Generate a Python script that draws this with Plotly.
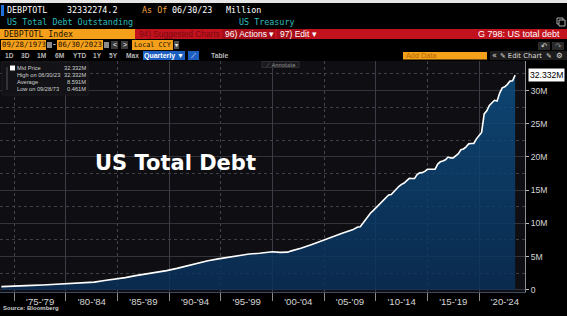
import plotly.graph_objects as go

# ---------------- data (US total public debt, millions of millions) ----------------
dates = [
    "1973-09-28", "1974-09-30", "1975-09-30", "1976-09-30", "1977-09-30", "1978-09-30",
    "1979-09-30", "1980-09-30", "1981-09-30", "1982-09-30", "1983-09-30", "1984-09-30",
    "1985-09-30", "1986-09-30", "1987-09-30", "1988-09-30", "1989-09-30", "1990-09-30",
    "1991-09-30", "1992-09-30", "1993-09-30", "1994-09-30", "1995-09-30", "1996-09-30",
    "1997-09-30", "1998-09-30", "1999-09-30", "1999-12-31", "2000-09-30", "2001-06-30",
    "2001-09-30", "2002-09-30", "2003-09-30", "2004-09-30", "2005-09-30", "2006-09-30",
    "2007-09-30", "2007-12-31",
    "2008-03-31", "2008-06-30", "2008-09-30", "2008-12-31",
    "2009-03-31", "2009-06-30", "2009-09-30", "2009-12-31",
    "2010-03-31", "2010-06-30", "2010-09-30", "2010-12-31",
    "2011-03-31", "2011-06-30", "2011-09-30", "2011-12-31",
    "2012-03-31", "2012-06-30", "2012-09-30", "2012-12-31",
    "2013-03-31", "2013-06-30", "2013-09-30", "2013-12-31",
    "2014-03-31", "2014-06-30", "2014-09-30", "2014-12-31",
    "2015-03-31", "2015-06-30", "2015-09-30", "2015-12-31",
    "2016-03-31", "2016-06-30", "2016-09-30", "2016-12-31",
    "2017-03-31", "2017-06-30", "2017-09-30", "2017-12-31",
    "2018-03-31", "2018-06-30", "2018-09-30", "2018-12-31",
    "2019-03-31", "2019-06-30", "2019-09-30", "2019-12-31",
    "2020-03-31", "2020-06-30", "2020-09-30", "2020-12-31",
    "2021-03-31", "2021-06-30", "2021-09-30", "2021-12-31",
    "2022-03-31", "2022-06-30", "2022-09-30", "2022-12-31",
    "2023-03-31", "2023-06-30",
]
debt = [
    0.461, 0.484, 0.542, 0.643, 0.706, 0.777,
    0.829, 0.909, 0.995, 1.137, 1.372, 1.565,
    1.817, 2.121, 2.346, 2.601, 2.868, 3.207,
    3.598, 4.002, 4.351, 4.643, 4.921, 5.181,
    5.369, 5.478, 5.606, 5.720, 5.620, 5.650,
    5.807, 6.228, 6.783, 7.379, 7.933, 8.507,
    9.008, 9.230,
    9.440, 9.490, 10.020, 10.700,
    11.130, 11.550, 11.910, 12.310,
    12.770, 13.200, 13.560, 14.030,
    14.270, 14.340, 14.790, 15.220,
    15.580, 15.860, 16.070, 16.430,
    16.770, 16.740, 16.740, 17.350,
    17.600, 17.630, 17.820, 18.140,
    18.150, 18.150, 18.150, 18.920,
    19.260, 19.380, 19.570, 19.980,
    19.850, 19.840, 20.240, 20.490,
    21.090, 21.200, 21.520, 21.970,
    22.030, 22.020, 22.720, 23.200,
    23.690, 26.480, 26.950, 27.750,
    28.130, 28.530, 28.430, 29.620,
    30.400, 30.570, 30.930, 31.420,
    31.460, 32.332,
]

period_mid = ["1977-07-02", "1982-07-02", "1987-07-02", "1992-07-02", "1997-07-02",
              "2002-07-02", "2007-07-02", "2012-07-02", "2017-07-02", "2022-07-02"]
period_labels = ["'75-'79", "'80-'84", "'85-'89", "'90-'94", "'95-'99",
                 "'00-'04", "'05-'09", "'10-'14", "'15-'19", "'20-'24"]
period_bounds = ["1975-01-01", "1980-01-01", "1985-01-01", "1990-01-01", "1995-01-01",
                 "2000-01-01", "2005-01-01", "2010-01-01", "2015-01-01", "2020-01-01"]
decade_bounds = ["1980-01-01", "1990-01-01", "2000-01-01", "2010-01-01", "2020-01-01"]
y_ticks = [0, 5, 10, 15, 20, 25, 30]
y_labels = ["0", "5M", "10M", "15M", "20M", "25M", "30M"]
y_minor = [2.5, 7.5, 12.5, 17.5, 22.5, 27.5, 32.5]

# ---------------- geometry helpers (pixel -> paper) ----------------
W, H = 567, 316
ML, MR, MT, MB = 0, 42, 61, 24
PW, PH = W - ML - MR, H - MT - MB


def X(px):
    return (px - ML) / PW


def Y(py):
    return (H - MB - py) / PH


SANS = "Liberation Sans"
MONO = "DejaVu Sans Mono"
shapes = []
anns = []


def rect(x0, y0, x1, y1, color, line=None, layer="above"):
    shapes.append(dict(type="rect", xref="paper", yref="paper",
                       x0=X(x0), x1=X(x1), y0=Y(y1), y1=Y(y0),
                       fillcolor=color, layer=layer,
                       line=dict(width=1 if line else 0, color=line or color)))


def txt(x, y, s, size=8, color="#ffffff", family=SANS, xanchor="left"):
    anns.append(dict(x=X(x), y=Y(y), xref="paper", yref="paper", text=s,
                     showarrow=False, xanchor=xanchor, yanchor="middle",
                     borderpad=0, font=dict(size=size, color=color, family=family)))


ORANGE = "#f5a01a"
RED = "#c2121d"
CYAN = "#2fbdbd"

# top strip
rect(0, 0, 567, 3, "#e6e6e6")
# row 1
rect(1, 5, 4, 16, "#1e6fd9")
txt(6, 10.5, "DEBPTOTL", 8.4, "#ffffff", MONO)
txt(66, 10.5, "32332274.2", 8.4, "#ffffff", MONO)
txt(141, 10.5, "As Of", 8.4, "#f0a640", MONO)
txt(171, 10.5, "06/30/23", 8.4, "#ffffff", MONO)
txt(225, 10.5, "Million", 8.4, "#ffffff", MONO)
rect(557, 18, 563, 24, "#000000", "#aaaaaa")
rect(559, 20, 565, 26, "#000000", "#aaaaaa")
# row 2
txt(6, 22, "US Total Debt Outstanding", 8.4, CYAN, MONO)
txt(238, 22, "US Treasury", 8.4, CYAN, MONO)
# row 3
rect(0, 29, 135, 39, ORANGE)
txt(3, 34, "DEBPTOTL Index", 8.2, "#1a1000", MONO)
rect(135, 29, 567, 39, RED)
rect(222, 29, 275, 39, "#a80e19")
rect(277, 29, 305, 39, "#a80e19")
txt(138, 34, "94) Suggested Charts", 8.3, "#7a0910")
txt(224, 34, "96) Actions ▾", 8.5, "#ffffff")
txt(279, 34, "97) Edit ▾", 8.5, "#ffffff")
txt(561, 34, "G 798: US total debt", 9, "#ffffff", xanchor="right")
# row 4
rect(1, 40, 46, 50, ORANGE)
txt(23.5, 45, "09/28/1973", 7.3, "#1a1000", MONO, "center")
rect(47, 42, 52, 48, "#8a8a8a")
txt(54.5, 45, "-", 8, "#ffffff", MONO, "center")
rect(57, 40, 103, 50, ORANGE)
txt(80, 45, "06/30/2023", 7.3, "#1a1000", MONO, "center")
rect(104, 42, 109, 48, "#8a8a8a")
rect(111, 41, 118, 49, "#3a3a3a")
rect(121, 41, 128, 49, "#3a3a3a")
txt(114.5, 45, "<", 7, "#ffffff", SANS, "center")
txt(124.5, 45, ">", 7, "#ffffff", SANS, "center")
rect(132, 40, 173, 50, ORANGE)
txt(152.5, 45, "Local CCY", 6.8, "#1a1000", MONO, "center")
rect(174, 41, 179, 49, "#505050")
txt(176.5, 45, "▾", 6, "#ffffff", SANS, "center")
rect(538, 42, 550, 50, "#2a2a2a")
rect(552, 42, 564, 50, "#2a2a2a")
txt(544, 46, "↶", 8, "#dddddd", "DejaVu Sans", "center")
txt(558, 46, "↷", 8, "#888888", "DejaVu Sans", "center")
# row 5
for lab, cx in zip(["1D", "3D", "1M", "6M", "YTD", "1Y", "5Y", "Max"],
                   [9, 25, 42, 60, 79, 97, 113, 132]):
    txt(cx, 55.5, "<b>" + lab + "</b>", 6.6, "#b8b8b8", SANS, "center")
rect(143, 51, 185, 60, "#1c5fc0")
txt(164, 55.5, "<b>Quarterly ▼</b>", 7, "#ffffff", SANS, "center")
rect(188, 51, 199, 60, "#1c5fc0")
txt(193.5, 55.5, "⟋", 7, "#ffffff", "DejaVu Sans", "center")
txt(219, 55.5, "<b>Table</b>", 6.8, "#b8b8b8", SANS, "center")
rect(403, 52, 487, 59.5, ORANGE)
txt(405, 55.7, "Add Data", 7.3, "#b06a00")
rect(490, 51, 567, 60, "#1c1c1c")
txt(494, 55.5, "«", 8, "#dddddd", "DejaVu Sans", "center")
txt(499, 55.5, "✎ Edit Chart", 6.8, "#dddddd", "DejaVu Sans")
txt(549, 55.5, "✎", 6.8, "#dddddd", "DejaVu Sans", "center")
txt(559, 55.5, "⚙", 7.5, "#dddddd", "DejaVu Sans", "center")

# legend box inside chart
rect(2, 62, 88, 95, "#131317", "#1c1c21")
rect(10, 65.5, 15, 70.5, "#ffffff")
shapes.append(dict(type="line", xref="paper", yref="paper", x0=X(7), x1=X(7),
                   y0=Y(67), y1=Y(90), line=dict(color="#555555", width=1), layer="above"))
leg_rows = [
    ("Mid Price", f"{debt[-1]:.3f}M", 68),
    ("High on 06/30/23", f"{max(debt):.3f}M", 75),
    ("Average", "8.591M", 82),
    ("Low on 09/28/73", f"{min(debt):.3f}M", 89),
]
for name, val, yy in leg_rows:
    txt(16, yy, name, 5.7, "#cfcfcf")
    txt(87, yy, val, 5.7, "#cfcfcf", SANS, "right")

# annotate button
rect(262, 61.5, 299, 67.5, "#1a1a1e", "#2e2e34")
txt(280.5, 64.5, "⟋ Annotate", 5.2, "#9a9a9a", "DejaVu Sans", "center")

# big title
txt(175.5, 163, "<b>US Total Debt</b>", 21, "#ffffff", "DejaVu Sans", "center")

# last value label
anns.append(dict(x=X(527.5), y=debt[-1], xref="paper", yref="y",
                 text=f"{debt[-1]:.3f}M", showarrow=False, xanchor="left",
                 yanchor="middle", bgcolor="#ffffff", borderpad=1,
                 font=dict(size=8.6, color="#000000", family=SANS)))

# source
txt(2, 308, "<b>Source: Bloomberg</b>", 6, "#cccccc")

# ---------------- figure ----------------
XR = ["1973-08-12", "2024-06-13"]
fig = go.Figure()
fig.add_trace(go.Scatter(
    x=dates, y=debt, mode="lines", fill="tozeroy",
    line=dict(color="#ffffff", width=1.6),
    fillgradient=dict(type="vertical",
                      colorscale=[[0, "rgba(9,48,90,0.82)"], [1, "rgba(13,80,134,0.82)"]],
                      start=0, stop=32.3),
    hoverinfo="skip", showlegend=False,
))
fig.add_trace(go.Scatter(x=[dates[0]], y=[debt[0]], xaxis="x2", mode="markers",
                         marker=dict(opacity=0), hoverinfo="skip", showlegend=False))

fig.update_layout(
    width=W, height=H,
    margin=dict(l=ML, r=MR, t=MT, b=MB, pad=0),
    paper_bgcolor="#000000", plot_bgcolor="#0f0f13",
    font=dict(family=SANS, color="#d8d8d8"),
    showlegend=False,
    xaxis=dict(
        type="date", range=XR,
        tickmode="array", tickvals=period_mid, ticktext=period_labels,
        ticks="", showgrid=False, zeroline=False,
        showline=True, linecolor="#3d4c62", linewidth=1,
        tickfont=dict(size=9.6, color="#d6d6d6", family=SANS),
        minor=dict(tickmode="array", tickvals=period_bounds, ticks="outside",
                   ticklen=8, tickcolor="#8a8a8a", tickwidth=1,
                   showgrid=True, gridcolor="#44444c", griddash="dot", gridwidth=1),
    ),
    xaxis2=dict(
        type="date", range=XR, overlaying="x", side="bottom",
        tickmode="array", tickvals=decade_bounds, showticklabels=False,
        ticks="", showgrid=True, gridcolor="#3c3c46", gridwidth=1,
        zeroline=False, showline=False,
    ),
    yaxis=dict(
        side="right", range=[-0.35, 34.45],
        tickmode="array", tickvals=y_ticks, ticktext=y_labels,
        ticks="outside", ticklen=3, tickcolor="#bbbbbb",
        showgrid=True, gridcolor="#33333b", gridwidth=1, zeroline=False,
        showline=True, linecolor="#8c8c92", linewidth=1,
        tickfont=dict(size=8.6, color="#d6d6d6", family=SANS),
        minor=dict(tickmode="array", tickvals=y_minor, ticks="",
                   showgrid=True, gridcolor="#40404a", griddash="dot", gridwidth=1),
    ),
    shapes=shapes,
    annotations=anns,
)

fig.write_html("out.html")
